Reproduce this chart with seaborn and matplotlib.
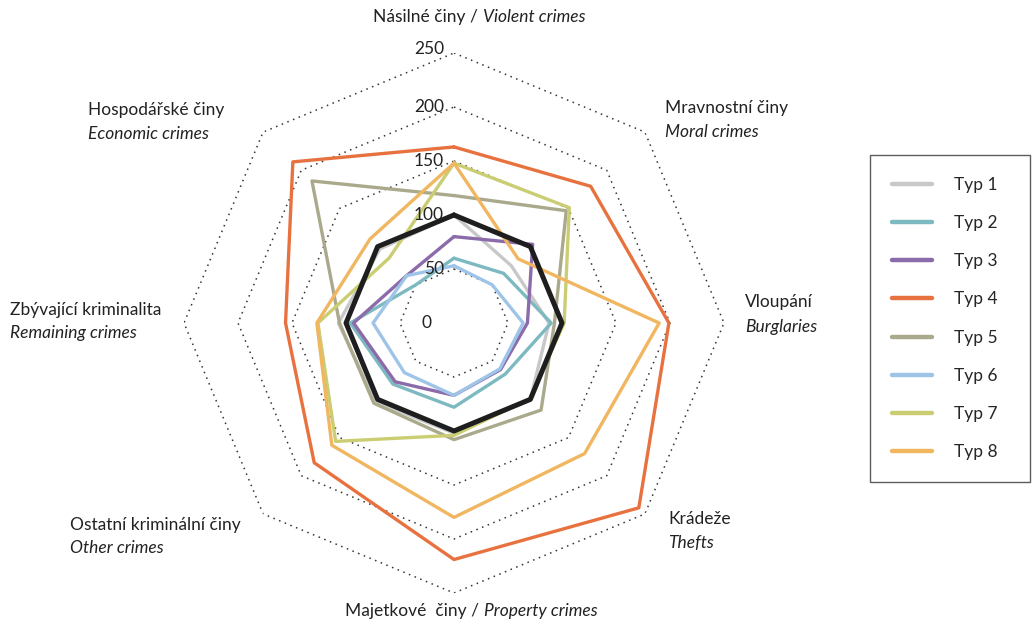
import numpy as np
import pandas as pd
import seaborn as sns
import matplotlib.pyplot as plt

# ---------------------------------------------------------
# DATA (index scale)
# ---------------------------------------------------------
categories = ['Violent', 'Moral', 'Burglaries', 'Thefts',
              'Property', 'Other', 'Remaining', 'Economic']
types = ['Typ 1', 'Typ 2', 'Typ 3', 'Typ 4', 'Typ 5', 'Typ 6', 'Typ 7', 'Typ 8']

typ1 = [100, 75, 88, 100, 102, 103, 107, 97]
typ2 = [60, 65, 90, 67, 78, 80, 96, 50]
typ3 = [80, 103, 68, 61, 67, 77, 93, 62]
typ4 = [163, 179, 199, 242, 219, 183, 156, 211]
typ5 = [118, 147, 93, 114, 108, 105, 106, 186]
typ6 = [53, 50, 64, 60, 67, 65, 75, 62]
typ7 = [148, 151, 102, 99, 104, 155, 126, 85]
typ8 = [148, 84, 190, 171, 180, 160, 127, 110]
average = [100, 100, 100, 100, 100, 100, 100, 100]

ring_values = [50, 100, 150, 200, 250]
tick_labels = ['0', '50', '100', '150', '200', '250']

colors = ['#C8C8C8', '#7DB9C0', '#8C6BAA', '#E8723F',
          '#ABA98C', '#9EC4E8', '#CACD72', '#F0B660']

# ---------------------------------------------------------
# LONG TABLE (closed polygons)
# ---------------------------------------------------------
n = len(categories)
angles = np.linspace(0, 2 * np.pi, n, endpoint=False)
angles_closed = np.append(angles, 2 * np.pi)

rows = []
for name, vals in zip(types, [typ1, typ2, typ3, typ4, typ5, typ6, typ7, typ8]):
    closed = list(vals) + [vals[0]]
    for k, (a, v) in enumerate(zip(angles_closed, closed)):
        rows.append({'Typ': name, 'theta': a, 'r': v, 'order': k})
df = pd.DataFrame(rows)

# ---------------------------------------------------------
# STYLE
# ---------------------------------------------------------
sns.set_theme(style="white")
plt.rcParams['font.family'] = ['Lato', 'DejaVu Sans']

W, H = 1036, 627
fig = plt.figure(figsize=(W / 100, H / 100), dpi=100)

cx, cy, rad = 454, 323, 270
ax = fig.add_axes([(cx - rad) / W, (H - cy - rad) / H, 2 * rad / W, 2 * rad / H],
                  projection='polar')
ax.set_theta_zero_location('N')
ax.set_theta_direction(-1)
ax.set_ylim(0, 250)
ax.grid(False)
ax.set_xticks([])
ax.set_yticks([])
ax.spines['polar'].set_visible(False)

# octagonal dotted grid
for rv in ring_values:
    ax.plot(angles_closed, [rv] * (n + 1), linestyle=(0, (1, 3)),
            color='#333333', lw=1.1, zorder=1)

# the eight types
sns.lineplot(data=df, x='theta', y='r', hue='Typ', hue_order=types,
             palette=colors, sort=False, estimator=None, units='Typ',
             linewidth=2.4, ax=ax, zorder=3)

# average line (black)
ax.plot(angles_closed, average + [average[0]], color='#1E1E1E', lw=3.6, zorder=4)
ax.set_xlabel('')
ax.set_ylabel('')

# radial tick labels
for v, lab in zip([0] + ring_values, tick_labels):
    dx = -22 if v == 0 else -10
    dy = 4 if v == 250 else 0
    ax.annotate(lab, xy=(0, v), xytext=(dx, dy), textcoords='offset pixels',
                ha='right', va='center', fontsize=12.5, color='#222222',
                annotation_clip=False)

# ---------------------------------------------------------
# AXIS LABELS
# ---------------------------------------------------------
def ft(x, y, s, style='normal', ha='left'):
    fig.text(x / W, 1 - y / H, s, ha=ha, va='center', fontsize=12.5,
             style=style, color='#222222')

ft(478, 17, 'Násilné činy /', ha='right')
ft(483, 17, 'Violent crimes', style='italic')
ft(665, 108, 'Mravnostní činy')
ft(665, 132, 'Moral crimes', style='italic')
ft(745, 302, 'Vloupání')
ft(745, 327, 'Burglaries', style='italic')
ft(668, 519, 'Krádeže')
ft(668, 543, 'Thefts', style='italic')
ft(479, 611, 'Majetkové  činy /', ha='right')
ft(484, 611, 'Property crimes', style='italic')
ft(70, 525, 'Ostatní kriminální činy')
ft(70, 548, 'Other crimes', style='italic')
ft(10, 310, 'Zbývající kriminalita')
ft(10, 333, 'Remaining crimes', style='italic')
ft(88, 110, 'Hospodářské činy')
ft(88, 134, 'Economic crimes', style='italic')

# ---------------------------------------------------------
# LEGEND
# ---------------------------------------------------------
handles, labels = ax.get_legend_handles_labels()
for h in handles:
    h.set_linewidth(3.2)
    h.set_solid_capstyle('round')
leg = ax.legend(handles, labels, loc='upper left', mode='expand',
                bbox_to_anchor=(870 / W, (H - 475) / H, 160 / W, 320 / H),
                bbox_transform=fig.transFigure,
                fontsize=12.5, frameon=True, fancybox=False, edgecolor='#333333',
                handlelength=2.3, handletextpad=1.3, labelspacing=1.28,
                borderpad=1.25, borderaxespad=0)
leg.get_frame().set_linewidth(1.0)

fig.savefig('out.png', dpi=100, facecolor='white')
